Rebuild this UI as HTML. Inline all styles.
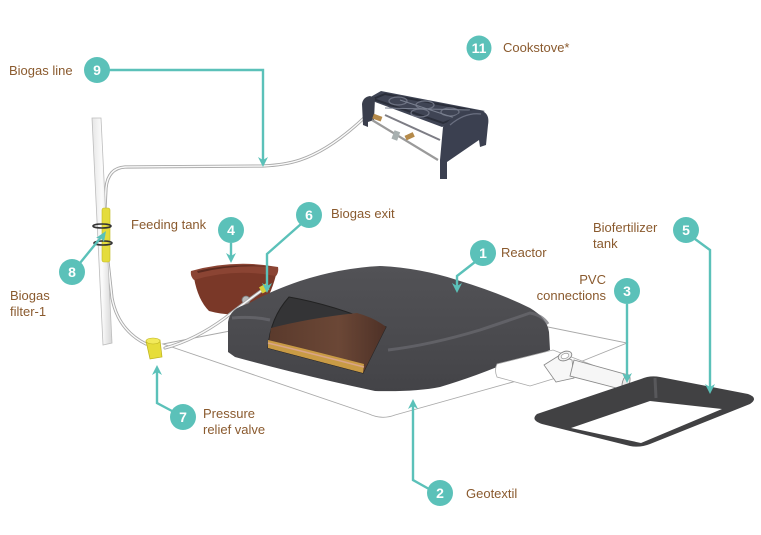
<!DOCTYPE html>
<html><head><meta charset="utf-8"><style>
html,body{margin:0;padding:0;background:#fff;}
svg{display:block;}
text{font-family:"Liberation Sans",sans-serif;}
.lb{font-size:13px;fill:#8a5a2e;}
.bd{fill:#5bc1b9;}
.bn{font-size:14px;font-weight:bold;fill:#fff;text-anchor:middle;}
.ln{fill:none;stroke:#5bc1b9;stroke-width:2.4;stroke-linejoin:miter;}
.ah{fill:#5bc1b9;}
.tube{fill:none;stroke:#a8a8a8;stroke-width:3.2;stroke-linecap:round;stroke-linejoin:round;}
.tubei{fill:none;stroke:#fafafa;stroke-width:1.4;stroke-linecap:round;stroke-linejoin:round;}
</style></head><body>
<svg width="761" height="535" viewBox="0 0 761 535" xmlns="http://www.w3.org/2000/svg">
<defs>
<linearGradient id="pole" x1="0" x2="1" y1="0" y2="0">
<stop offset="0" stop-color="#e6e6e6"/><stop offset="0.5" stop-color="#fbfbfb"/><stop offset="1" stop-color="#d6d6d6"/>
</linearGradient>
<linearGradient id="react" x1="0" x2="0" y1="0" y2="1">
<stop offset="0" stop-color="#525256"/><stop offset="0.6" stop-color="#4a4a4e"/><stop offset="1" stop-color="#434347"/>
</linearGradient>
<linearGradient id="sludge" x1="0" x2="1" y1="0" y2="0">
<stop offset="0" stop-color="#5a3a2c"/><stop offset="0.6" stop-color="#6b4736"/><stop offset="1" stop-color="#4e3127"/>
</linearGradient>
</defs>

<!-- geotextile sheet -->
<path d="M163,344 L230,331 L548,327 L627,343 L560,370 L520,380 L395,415 Q382,420 369,414 Z" fill="#fff" stroke="#a9a9a9" stroke-width="0.9"/>

<!-- feeding tank -->
<path d="M194,278 Q198,300 209,311 Q234,318 259,311 Q270,298 276,275 Q234,267 194,278 Z" fill="#7a3828"/>
<path d="M191,271 Q234,259 278,267 Q279,272 276,276 Q234,268 194,280 Q190,276 191,271 Z" fill="#8b4433"/>
<path d="M197,271 Q234,262 273,267 Q234,264 198,273 Z" fill="#5c2a1f"/>
<circle cx="246" cy="300" r="4" fill="#b8b8b8" stroke="#777" stroke-width="0.8"/>

<!-- tubes -->
<path class="tube" d="M108,262 L112,298 Q118,330 146,344"/>
<path class="tubei" d="M108,262 L112,298 Q118,330 146,344"/>
<path class="tube" d="M165,348 Q195,340 225,318 Q248,300 264,289"/>
<path class="tubei" d="M165,348 Q195,340 225,318 Q248,300 264,289"/>
<path class="tube" d="M105,208 L106,188 Q108,168 125,167 L263,166 Q285,165 300,160 Q330,150 364,118"/>
<path class="tubei" d="M105,208 L106,188 Q108,168 125,167 L263,166 Q285,165 300,160 Q330,150 364,118"/>

<!-- reactor -->
<path d="M228,352 L228,322 Q230,308 248,304 Q268,292 300,281 Q340,268 380,266 Q420,268 457,280 Q500,293 530,308 Q547,318 549,332 L550,350 Q520,362 497,367 Q470,378 440,387 Q415,392 375,391 Q300,375 235,357 Z" fill="url(#react)"/>
<path d="M232,318 Q252,316 270,320 M388,350 Q430,345 480,330 Q510,320 530,313 Q542,315 548,324" fill="none" stroke="#6b6b70" stroke-width="3" opacity="0.7"/>
<!-- window -->
<path d="M289,297 Q335,305 386,327 L363,373 L268,348 Q270,318 289,297 Z" fill="#343436" stroke="#222" stroke-width="1"/>
<path d="M271,328 Q310,318 357,313 Q375,318 386,327 L363,373 L268,348 Z" fill="url(#sludge)"/>
<path d="M268,340 Q310,350 364,364 L363,373 L268,348 Z" fill="#c99b45"/>
<path d="M268,343 Q310,353 364,367" fill="none" stroke="#d9a489" stroke-width="1.5"/>
<!-- exit fitting -->
<rect x="260" y="285" width="8" height="7" fill="#d8cf3a" transform="rotate(-30 264 288)"/>

<!-- platform under PVC -->
<path d="M497,364 Q494,370 497,377 L530,386 L595,366 L553,350 Z" fill="#fff" stroke="#a9a9a9" stroke-width="0.8"/>
<!-- T junction -->
<path d="M544,365 L560,355 L572,360 L574,378 L556,382 Z" fill="#f7f7f7" stroke="#8a8a8a" stroke-width="0.8"/>
<ellipse cx="565" cy="356" rx="7" ry="4.5" fill="#f3f3f3" stroke="#888" stroke-width="0.9" transform="rotate(-20 565 356)"/>
<ellipse cx="565" cy="356" rx="4" ry="2.5" fill="#fff" stroke="#999" stroke-width="0.7" transform="rotate(-20 565 356)"/>
<!-- PVC pipe -->
<path d="M574,360 L628,375 L624,390 L570,376 Z" fill="#f6f6f6" stroke="#8a8a8a" stroke-width="0.9"/>
<ellipse cx="626" cy="382.5" rx="3.5" ry="8" fill="#e8e8e8" stroke="#888" stroke-width="0.9" transform="rotate(16 626 382.5)"/>

<!-- biofertilizer tank -->
<path d="M537,414 L641,379 Q650,375 660,377 L748,394 Q759,398 750,404 L650,444 Q640,448 630,446 L542,424 Q530,420 537,414 Z" fill="#414143"/>
<path d="M571,428 L650,401 L722,409 L641,443 Z" fill="#fff"/>
<path d="M655,378 L656,398" stroke="#5e5e62" stroke-width="3" opacity="0.8"/>

<!-- pole -->
<path d="M92,118 L101,118 L112,343 L103,345 Z" fill="url(#pole)" stroke="#bdbdbd" stroke-width="0.8"/>
<!-- filter -->
<rect x="102" y="208" width="8" height="54" rx="2" fill="#e4dc3c" stroke="#c2b820" stroke-width="0.6"/>
<ellipse cx="102" cy="226" rx="9" ry="2" fill="none" stroke="#333" stroke-width="1.6"/>
<ellipse cx="103" cy="243" rx="9" ry="2" fill="none" stroke="#333" stroke-width="1.6"/>
<!-- pressure relief valve -->
<path d="M146,341 L160,340 L162,357 L150,359 Z" fill="#e6dd3a" stroke="#bdb21e" stroke-width="0.7"/>
<ellipse cx="153" cy="341" rx="7" ry="3" fill="#f2ea5a" stroke="#bdb21e" stroke-width="0.6"/>

<!-- cookstove -->
<path d="M367,99 L381,91 L485,111 L442,127 Z" fill="#3f4454"/>
<path d="M373,99 L385,94 L475,111 L443,123 Z" fill="none" stroke="#2a2e3a" stroke-width="2"/>
<ellipse cx="398" cy="101" rx="9" ry="4" fill="none" stroke="#6d7282" stroke-width="1.3"/>
<ellipse cx="425" cy="105" rx="9" ry="4" fill="none" stroke="#6d7282" stroke-width="1.3"/>
<ellipse cx="420" cy="113" rx="9" ry="4" fill="none" stroke="#6d7282" stroke-width="1.3"/>
<ellipse cx="450" cy="112" rx="9" ry="4" fill="none" stroke="#6d7282" stroke-width="1.3"/>
<path d="M400,100 L455,118 M385,108 L470,110" stroke="#7a8090" stroke-width="1"/>
<path d="M363,125 L362,104 Q363,97 370,96 L375,98 L374,120 L368,122 L368,127 Z" fill="#3a3e4c"/>
<path d="M443,127 Q460,106 482,111 Q490,114 488,125 L486,145 L480,147 L479,140 L447,162 L447,179 L440,179 L440,160 Z" fill="#3b4050"/>
<path d="M450,125 Q465,112 481,114" fill="none" stroke="#6a6f80" stroke-width="1.2"/>
<line x1="372" y1="120" x2="438" y2="160" stroke="#9a9a9a" stroke-width="2.2"/>
<line x1="385" y1="115" x2="440" y2="140" stroke="#7d7d85" stroke-width="2"/>
<rect x="373" y="115" width="9" height="5" fill="#b58a4a" transform="rotate(20 377 117)"/>
<rect x="405" y="134" width="9" height="5" fill="#b58a4a" transform="rotate(-25 409 136)"/>
<rect x="393" y="131" width="6" height="9" fill="#a8b0b0" transform="rotate(20 396 135)"/>

<!-- callout lines -->
<path class="ln" d="M108,70 H263 V160"/>
<path class="ah" d="M263,167 L258,157 L263,160 L268,157 Z"/>
<path class="ln" d="M80,263 L102,236"/>
<path class="ah" d="M106,231 L104,242 L101,238 L96,238 Z"/>
<path class="ln" d="M231,243 V256"/>
<path class="ah" d="M231,263 L226,253 L231,256 L236,253 Z"/>
<path class="ln" d="M301,224 L267,254 V286"/>
<path class="ah" d="M267,293 L262,283 L267,286 L272,283 Z"/>
<path class="ln" d="M475,262 L457,276 V286"/>
<path class="ah" d="M457,293 L452,283 L457,286 L462,283 Z"/>
<path class="ln" d="M627,304 V376"/>
<path class="ah" d="M627,383 L622,373 L627,376 L632,373 Z"/>
<path class="ln" d="M695,239 L710,250 V387"/>
<path class="ah" d="M710,394 L705,384 L710,387 L715,384 Z"/>
<path class="ln" d="M172,411 L157,403 V372"/>
<path class="ah" d="M157,365 L152,375 L157,372 L162,375 Z"/>
<path class="ln" d="M429,489 L413,480 V406"/>
<path class="ah" d="M413,399 L408,409 L413,406 L418,409 Z"/>

<!-- badges -->
<circle class="bd" cx="97" cy="70" r="13"/><text class="bn" x="97" y="75">9</text>
<circle class="bd" cx="479" cy="48" r="12.5"/><text class="bn" x="479" y="53">11</text>
<circle class="bd" cx="72" cy="272" r="13"/><text class="bn" x="72" y="277">8</text>
<circle class="bd" cx="231" cy="230" r="13"/><text class="bn" x="231" y="235">4</text>
<circle class="bd" cx="309" cy="215" r="13"/><text class="bn" x="309" y="220">6</text>
<circle class="bd" cx="483" cy="253" r="13"/><text class="bn" x="483" y="258">1</text>
<circle class="bd" cx="627" cy="291" r="13"/><text class="bn" x="627" y="296">3</text>
<circle class="bd" cx="686" cy="230" r="13"/><text class="bn" x="686" y="235">5</text>
<circle class="bd" cx="183" cy="417" r="13"/><text class="bn" x="183" y="422">7</text>
<circle class="bd" cx="440" cy="493" r="13"/><text class="bn" x="440" y="498">2</text>

<!-- labels -->
<text class="lb" x="9" y="75">Biogas line</text>
<text class="lb" x="503" y="52">Cookstove*</text>
<text class="lb" x="131" y="229">Feeding tank</text>
<text class="lb" x="331" y="218">Biogas exit</text>
<text class="lb" x="501" y="257">Reactor</text>
<text class="lb" x="606" y="284" text-anchor="end">PVC</text>
<text class="lb" x="606" y="300" text-anchor="end">connections</text>
<text class="lb" x="593" y="232">Biofertilizer</text>
<text class="lb" x="593" y="248">tank</text>
<text class="lb" x="10" y="300">Biogas</text>
<text class="lb" x="10" y="316">filter-1</text>
<text class="lb" x="203" y="418">Pressure</text>
<text class="lb" x="203" y="434">relief valve</text>
<text class="lb" x="466" y="498">Geotextil</text>
</svg>
</body></html>
